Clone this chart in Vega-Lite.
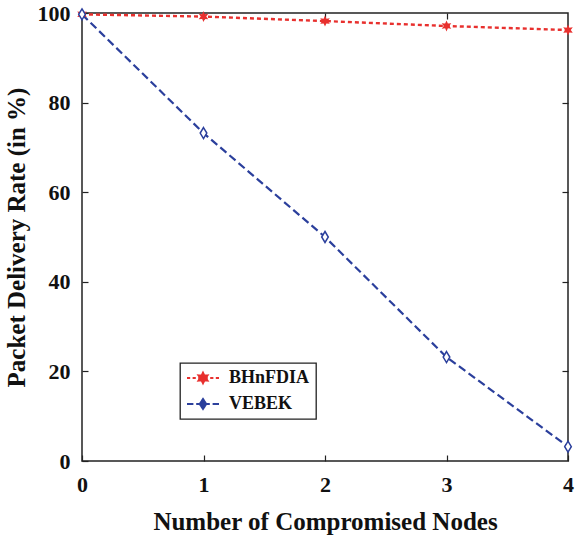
{
  "$schema": "https://vega.github.io/schema/vega-lite/v6.json",
  "width": 486,
  "height": 448,
  "autosize": {"type": "none"},
  "padding": {"left": 82, "top": 13, "right": 9, "bottom": 78},
  "background": "white",
  "config": {
    "view": {"stroke": "#222222", "strokeWidth": 1.5},
    "font": "Liberation Serif",
    "axis": {
      "grid": false,
      "domain": false,
      "labelFont": "Liberation Serif",
      "labelFontWeight": "bold",
      "labelFontSize": 22,
      "labelColor": "#111111",
      "labelFlush": false,
      "titleFont": "Liberation Serif",
      "titleFontWeight": "bold",
      "titleFontSize": 25,
      "titleColor": "#111111",
      "tickColor": "#222222",
      "tickWidth": 1.2
    },
    "legend": {
      "labelFont": "Liberation Serif",
      "labelFontSize": 18,
      "labelFontWeight": "bold",
      "labelColor": "#111111"
    }
  },
  "data": {
    "values": [
      {"nodes": 0, "pdr": 99.7, "series": "BHnFDIA"},
      {"nodes": 1, "pdr": 99.2, "series": "BHnFDIA"},
      {"nodes": 2, "pdr": 98.2, "series": "BHnFDIA"},
      {"nodes": 3, "pdr": 97.1, "series": "BHnFDIA"},
      {"nodes": 4, "pdr": 96.2, "series": "BHnFDIA"},
      {"nodes": 0, "pdr": 99.7, "series": "VEBEK"},
      {"nodes": 1, "pdr": 73.2, "series": "VEBEK"},
      {"nodes": 2, "pdr": 50.0, "series": "VEBEK"},
      {"nodes": 3, "pdr": 23.2, "series": "VEBEK"},
      {"nodes": 4, "pdr": 3.2, "series": "VEBEK"}
    ]
  },
  "resolve": {"axis": {"x": "independent", "y": "independent"}},
  "layer": [
    {
      "transform": [{"filter": "datum.series === 'VEBEK'"}],
      "mark": {"type": "line", "strokeWidth": 2.2, "strokeDash": [8, 4]},
      "encoding": {
        "x": {
          "field": "nodes", "type": "quantitative",
          "scale": {"domain": [0, 4], "nice": false},
          "axis": {"values": [0, 1, 2, 3, 4], "title": "Number of Compromised Nodes", "ticks": true, "tickSize": -6, "labelPadding": 19, "titlePadding": 14}
        },
        "y": {
          "field": "pdr", "type": "quantitative",
          "scale": {"domain": [0, 100], "nice": false},
          "axis": {"values": [0, 20, 40, 60, 80, 100], "title": "Packet Delivery Rate (in %)", "ticks": true, "tickSize": -6, "labelPadding": 18, "titlePadding": 8}
        },
        "color": {
          "field": "series", "type": "nominal",
          "scale": {"domain": ["BHnFDIA", "VEBEK"], "range": ["#e8302e", "#2b3f9c"]},
          "legend": {
            "title": null,
            "orient": "none",
            "legendX": 98,
            "legendY": 350,
            "strokeColor": "#222222",
            "fillColor": "white",
            "padding": 6,
            "rowPadding": 7,
            "symbolSize": 256,
            "symbolOffset": 8,
            "labelOffset": 17,
            "symbolStrokeWidth": 2,
            "encode": {
              "legend": {"update": {"strokeWidth": {"value": 1.3}}},
              "symbols": {
                "update": {
                  "shape": {"signal": "datum.value === 'BHnFDIA' ? 'M-2,0H-1.6M-1.3,0H-0.9M-0.6,0H-0.45M0.45,0H0.6M0.9,0H1.3M1.6,0H2M0,-0.65L0.175,-0.303L0.563,-0.325L0.35,0L0.563,0.325L0.175,0.303L0,0.65L-0.175,0.303L-0.563,0.325L-0.35,0L-0.563,-0.325L-0.175,-0.303Z' : 'M-2,0H-1.2M-0.85,0H-0.45M0.45,0H0.85M1.2,0H2M0,-0.62L0.4,0L0,0.62L-0.4,0Z'"},
                  "fill": {"signal": "datum.value === 'BHnFDIA' ? '#e8302e' : 'white'"},
                  "stroke": {"signal": "datum.value === 'BHnFDIA' ? '#e8302e' : '#2b3f9c'"},
                  "strokeDash": {"value": [1, 0]},
                  "size": {"value": 256},
                  "opacity": {"value": 1}
                }
              }
            }
          }
        }
      }
    },
    {
      "transform": [{"filter": "datum.series === 'BHnFDIA'"}],
      "mark": {"type": "line", "strokeWidth": 2.4, "strokeDash": [4, 3]},
      "encoding": {
        "x": {"field": "nodes", "type": "quantitative", "axis": null},
        "y": {"field": "pdr", "type": "quantitative", "axis": null},
        "color": {"field": "series", "type": "nominal"}
      }
    },
    {
      "transform": [{"filter": "datum.series === 'BHnFDIA'"}],
      "mark": {"type": "point", "size": 121, "strokeWidth": 1.5, "opacity": 1, "filled": true,
        "shape": "M0,-1L0.25,-0.433L0.866,-0.5L0.5,0L0.866,0.5L0.25,0.433L0,1L-0.25,0.433L-0.866,0.5L-0.5,0L-0.866,-0.5L-0.25,-0.433Z"},
      "encoding": {
        "x": {
          "field": "nodes", "type": "quantitative",
          "axis": {"orient": "top", "values": [1, 2, 3], "labels": false, "title": null, "ticks": true, "tickSize": -6}
        },
        "y": {
          "field": "pdr", "type": "quantitative",
          "axis": {"orient": "right", "values": [20, 40, 60, 80], "labels": false, "title": null, "ticks": true, "tickSize": -6}
        },
        "color": {"field": "series", "type": "nominal"}
      }
    },
    {
      "transform": [{"filter": "datum.series === 'VEBEK'"}],
      "mark": {"type": "point", "size": 121, "strokeWidth": 1.5, "opacity": 1, "filled": false, "fill": "white",
        "shape": "M0,-1L0.6,0L0,1L-0.6,0Z"},
      "encoding": {
        "x": {"field": "nodes", "type": "quantitative", "axis": null},
        "y": {"field": "pdr", "type": "quantitative", "axis": null},
        "color": {"field": "series", "type": "nominal"}
      }
    }
  ]
}
